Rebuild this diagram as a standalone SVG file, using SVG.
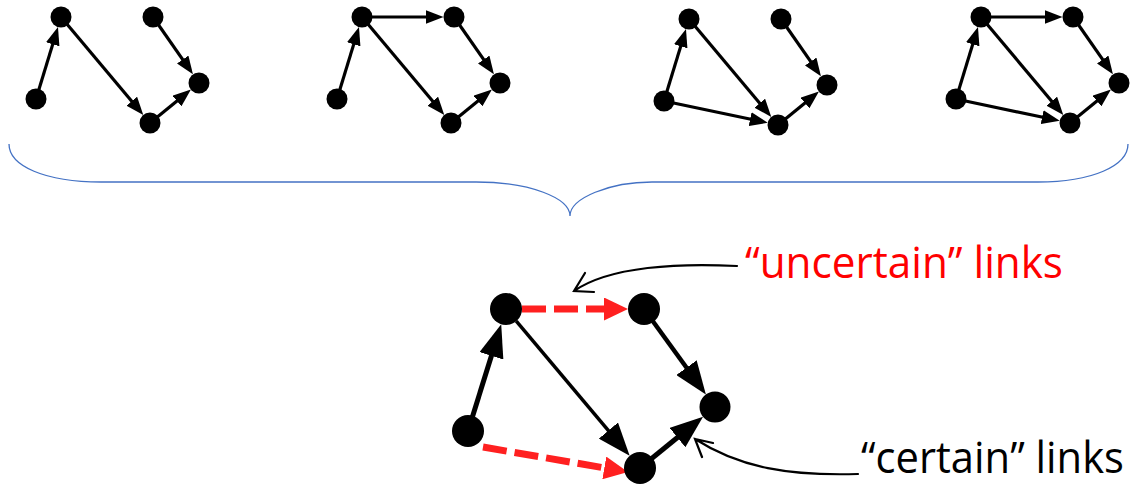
<svg xmlns="http://www.w3.org/2000/svg" width="1130" height="485" viewBox="0 0 1130 485">
  <style>
    .node { fill: #000; }
    .edge-s { stroke: #000; stroke-width: 3.2; fill: none; marker-end: url(#head-s); }
    .edge-b { stroke: #000; fill: none; marker-end: url(#head-b); }
    .edge-r { stroke: #ff2020; stroke-width: 7; stroke-dasharray: 24 8; fill: none; marker-end: url(#head-r); }
    .callout { stroke: #000; stroke-width: 2.2; fill: none; stroke-linecap: round; }
    .label { font-family: "Open Sans", "Noto Sans", "Liberation Sans", sans-serif; font-size: 43px; }
    .brace { stroke: #4472c4; stroke-width: 1.3; fill: none; }
  </style>
  <defs>
    <marker id="head-s" markerUnits="userSpaceOnUse" markerWidth="18" markerHeight="14" refX="2" refY="7" orient="auto">
      <path d="M0,0 L18,7 L0,14 z" fill="#000"/>
    </marker>
    <marker id="head-b" markerUnits="userSpaceOnUse" markerWidth="33" markerHeight="25" refX="2" refY="12.5" orient="auto">
      <path d="M0,0 L33,12.5 L0,25 z" fill="#000"/>
    </marker>
    <marker id="head-r" markerUnits="userSpaceOnUse" markerWidth="24" markerHeight="23" refX="0" refY="11.5" orient="auto">
      <path d="M0,0 L24,11.5 L0,23 z" fill="#ff2020"/>
    </marker>
  </defs>

  <!-- small graph 1 -->
  <g id="graph1">
    <g id="graph1-connectors">
      <path class="edge-s" d="M36,99 L53.3,42.4"/>
      <path class="edge-s" d="M61,17 L133,102.7"/>
      <path class="edge-s" d="M153,17 L183.8,61.2"/>
      <path class="edge-s" d="M150,123 L178.5,99.7"/>
    </g>
    <g id="g1-a"><circle class="node" cx="61" cy="17" r="10.5"/></g>
    <g id="g1-b"><circle class="node" cx="36" cy="99" r="10.5"/></g>
    <g id="g1-c"><circle class="node" cx="153" cy="17" r="10.5"/></g>
    <g id="g1-d"><circle class="node" cx="199" cy="83" r="10.5"/></g>
    <g id="g1-e"><circle class="node" cx="150" cy="123" r="10.5"/></g>
  </g>

  <!-- small graph 2 -->
  <g id="graph2" transform="translate(301,0)">
    <g id="graph2-connectors">
      <path class="edge-s" d="M36,99 L53.3,42.4"/>
      <path class="edge-s" d="M61,17 L126.5,17"/>
      <path class="edge-s" d="M61,17 L133,102.7"/>
      <path class="edge-s" d="M153,17 L183.8,61.2"/>
      <path class="edge-s" d="M150,123 L178.5,99.7"/>
    </g>
    <g id="g2-a"><circle class="node" cx="61" cy="17" r="10.5"/></g>
    <g id="g2-b"><circle class="node" cx="36" cy="99" r="10.5"/></g>
    <g id="g2-c"><circle class="node" cx="153" cy="17" r="10.5"/></g>
    <g id="g2-d"><circle class="node" cx="199" cy="83" r="10.5"/></g>
    <g id="g2-e"><circle class="node" cx="150" cy="123" r="10.5"/></g>
  </g>

  <!-- small graph 3 -->
  <g id="graph3" transform="translate(628,2)">
    <g id="graph3-connectors">
      <path class="edge-s" d="M36,99 L53.3,42.4"/>
      <path class="edge-s" d="M61,17 L133,102.7"/>
      <path class="edge-s" d="M36,99 L124.1,117.5"/>
      <path class="edge-s" d="M153,17 L183.8,61.2"/>
      <path class="edge-s" d="M150,123 L178.5,99.7"/>
    </g>
    <g id="g3-a"><circle class="node" cx="61" cy="17" r="10.5"/></g>
    <g id="g3-b"><circle class="node" cx="36" cy="99" r="10.5"/></g>
    <g id="g3-c"><circle class="node" cx="153" cy="17" r="10.5"/></g>
    <g id="g3-d"><circle class="node" cx="199" cy="83" r="10.5"/></g>
    <g id="g3-e"><circle class="node" cx="150" cy="123" r="10.5"/></g>
  </g>

  <!-- small graph 4 -->
  <g id="graph4" transform="translate(920,0)">
    <g id="graph4-connectors">
      <path class="edge-s" d="M36,99 L53.3,42.4"/>
      <path class="edge-s" d="M61,17 L126.5,17"/>
      <path class="edge-s" d="M61,17 L133,102.7"/>
      <path class="edge-s" d="M36,99 L124.1,117.5"/>
      <path class="edge-s" d="M153,17 L183.8,61.2"/>
      <path class="edge-s" d="M150,123 L178.5,99.7"/>
    </g>
    <g id="g4-a"><circle class="node" cx="61" cy="17" r="10.5"/></g>
    <g id="g4-b"><circle class="node" cx="36" cy="99" r="10.5"/></g>
    <g id="g4-c"><circle class="node" cx="153" cy="17" r="10.5"/></g>
    <g id="g4-d"><circle class="node" cx="199" cy="83" r="10.5"/></g>
    <g id="g4-e"><circle class="node" cx="150" cy="123" r="10.5"/></g>
  </g>

  <!-- curly brace gathering the four graphs -->
  <path class="brace" d="M9,144 C9,166 45,182 101,182 L476,182 C530,182 570,198 570,216 C570,198 610,182 652,182 L1038,182 C1092,182 1128,166 1128,144"/>

  <!-- merged graph -->
  <g id="merged">
    <g id="merged-connectors">
      <path class="edge-b" stroke-width="5" d="M468,431 L492,353.9"/>
      <path class="edge-b" stroke-width="3.5" d="M516.3,321.2 L609.7,432.1"/>
      <path class="edge-b" stroke-width="4.5" d="M644,309 L687.7,369.3"/>
      <path class="edge-b" stroke-width="5" d="M640,468 L679,436.3"/>
      <path class="edge-r" d="M522,309 L604,309"/>
      <path class="edge-r" d="M483,447 L604.3,467.9"/>
    </g>
    <g id="m-a"><circle class="node" cx="506" cy="309" r="16"/></g>
    <g id="m-b"><circle class="node" cx="468" cy="431" r="16"/></g>
    <g id="m-c"><circle class="node" cx="644" cy="309" r="16"/></g>
    <g id="m-d"><circle class="node" cx="715" cy="407" r="15.5"/></g>
    <g id="m-e"><circle class="node" cx="640" cy="468" r="16"/></g>
  </g>

  <!-- callouts -->
  <g id="callout-uncertain">
    <path class="callout" d="M737,266 C680,263 610,266 574,291 M585,273 L574,291 L594,292"/>
    <text class="label" x="745" y="278" fill="#ff0000" textLength="318" lengthAdjust="spacingAndGlyphs">“uncertain” links</text>
  </g>
  <g id="callout-certain">
    <path class="callout" d="M858,474 C790,476 740,468 695,439 M713,443 L695,439 L702,457"/>
    <text class="label" x="861" y="473" fill="#000" font-size="42" textLength="263" lengthAdjust="spacingAndGlyphs">“certain” links</text>
  </g>
</svg>
